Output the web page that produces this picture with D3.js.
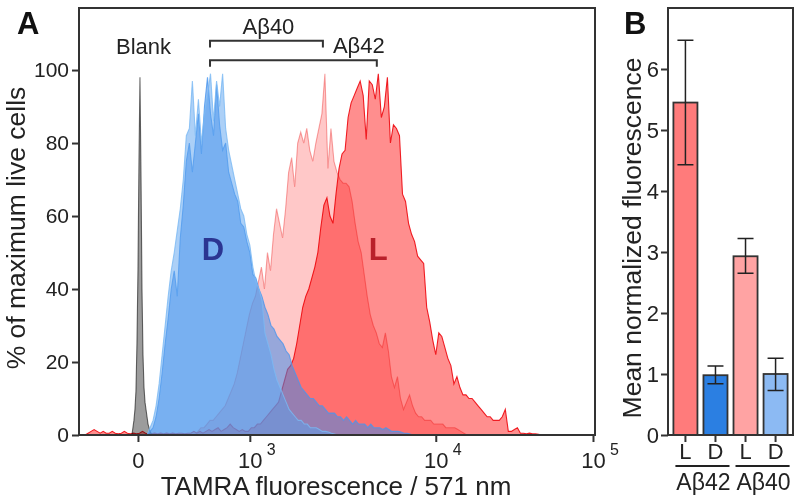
<!DOCTYPE html>
<html lang="en">
<head>
<meta charset="UTF-8">
<title>TAMRA uptake</title>
<script src="https://cdnjs.cloudflare.com/ajax/libs/d3/7.8.5/d3.min.js"></script>
<style>
  body { margin: 0; background: #fff; }
  svg { font-family: "Liberation Sans", Arial, sans-serif; }
</style>
</head>
<body>
<svg id="chart" width="800" height="502"></svg>
<script>
// ---- panel A: flow cytometry histograms (x in display channels, 0-1024) ----
var xTickChannels = [117, 339, 708, 1020];
var xTickBase = ["0", "10", "10", "10"];
var xTickExp = ["", "3", "4", "5"];
var yTicksA = [0, 20, 40, 60, 80, 100];

var binStep = 6;   // channels between histogram points

var blankStart = 105, blankStep = 2;
var blankVals = [0,2,4,7,12,25,45,75,98,72,40,22,13,9,7,5,3,2,1,0.5,0];

var d42Start = 135;
var d42Vals = [0,1,2,5,10,17,25,32,40,45,38,54,63,75,80,72,80,88,77,90,98,88,82,96,85,78,80,72,69,66,
  64,58,57,53,50,44,43,40,38,35,33,30,29,27,26,25,23,22,19,17,15,13,12,11,10,10,9,8,8,7,
  6,6,6,5,5,4,5,4,3,4,3,3,3,2,3,2,2,2,1.5,2,1.5,1,1,1,0.8,0.5,0.5,0.3,0];

var d40Start = 135;
var d40Vals = [0,2,4,8,14,22,30,38,45,50,56,62,70,82,84,97,82,92,80,88,93,99,86,97,90,99,84,78,74,70,
  66,62,60,55,52,46,42,40,37,28,25,22,18,15,13,11,9,7,6,5,4,4,3,3,2,2,2,1.5,1,1,0.8,0.5,0.3,0];

var l40Start = 230;
var l40Vals = [0,1,2,2,3,4,4,5,6,7,8,10,12,14,17,21,25,29,33,36,38,42,46,40,50,45,55,62,58,54,
  62,72,76,68,80,83,80,84,78,75,80,84,88,99,73,84,75,72,70,69,69,68,64,58,53,50,44,38,33,30,
  28,25,24,28,23,16,13,16,10,7,9,11,8,6,5,5,4,4,4,3,3,3,3,2,2,2,2,1.5,1,0.5,0];

var l42Start = 12;
var l42Vals = [0,0.5,1,1.5,1,0.5,1,0.5,0.5,1,0.5,0.3,0.5,1,0.5,0.3,0.5,0.3,0.5,1,0.5,0.3,0.3,0.5,0.3,
  0.5,0.3,0.5,0.3,0.5,0.3,0.5,0.5,0.3,0.5,0.5,1,0.5,1,0.5,1,1.5,1,1.5,2,1,1.5,2,3,2,1.5,1,1.5,1,1,
  2,2,3,3,4,5,6,7,8,9,12,15,18,19,21,25,30,35,38,40,43,46,50,57,63,65,60,58,66,73,77,78,87,91,93,
  95,97,93,81,97,96,92,99,87,90,98,80,85,84,82,66,64,58,55,53,49,48,47,35,31,26,22,28,27,24,21,19,
  14,16,13,11,11,10,10,9,8,7,6,5,5,4,4,4,5,7,1,1,1.5,2,0.5,0.5,0.3,0.5,0.3,0.3,0.2,0];

// brackets: [label, from channel, to channel, level %]
var brackets = [["A\u03b240", 260, 484, 108], ["A\u03b242", 260, 591, 102.7]];

// ---- panel B: mean normalized fluorescence ----
var barKeys = ["L42", "D42", "L40", "D40"];
var barLetters = ["L", "D", "L", "D"];
var barMeans = [5.45, 0.98, 2.93, 1.0];
var barLow = [4.43, 0.84, 2.65, 0.73];
var barHigh = [6.47, 1.13, 3.22, 1.26];
var barColors = ["#ff7b7b", "#2b7fe2", "#ffa3a3", "#8cbaf3"];
var groupNames = ["A\u03b242", "A\u03b240"];
var yTicksB = [0, 1, 2, 3, 4, 5, 6];

var svg = d3.select("#chart");
var ink = "#333";
var font = "Liberation Sans, Arial, sans-serif";

// ===== Panel A =====
var A = {left: 79, right: 595, top: 8, bottom: 435};
var x = d3.scaleLinear().domain([0, 1024]).range([A.left, A.right]);
var y = d3.scaleLinear().domain([0, 117]).range([A.bottom, A.top]);

svg.append("clipPath").attr("id", "clipA").append("rect")
  .attr("x", A.left).attr("y", A.top).attr("width", A.right - A.left).attr("height", A.bottom - A.top);

// reds multiply together, blues are laid over them with plain transparency
var series = [
  {start: blankStart, step: blankStep, vals: blankVals, fill: "#9c9c9c", stroke: "#707070", blend: "multiply", op: 1},
  {start: l42Start, step: binStep, vals: l42Vals, fill: "#ff8e8e", stroke: "#f0242c", blend: "multiply", op: 1},
  {start: l40Start, step: binStep, vals: l40Vals, fill: "#ffc8c8", stroke: "#f7a8a8", blend: "multiply", op: 1},
  {start: d42Start, step: binStep, vals: d42Vals, fill: "#3f8be8", stroke: "#4a96ee", blend: "normal", op: 0.54},
  {start: d40Start, step: binStep, vals: d40Vals, fill: "#5aa2f0", stroke: "#7ab9f4", blend: "normal", op: 0.5}
];

var gHist = svg.append("g").attr("clip-path", "url(#clipA)");
series.forEach(function(s) {
  var pts = s.vals.map(function(v, i) { return [s.start + i * s.step, v]; });
  var area = d3.area().x(function(d) { return x(d[0]); }).y0(y(0)).y1(function(d) { return y(d[1]); });
  var line = d3.line().x(function(d) { return x(d[0]); }).y(function(d) { return y(d[1]); });
  gHist.append("path").datum(pts).attr("d", area)
    .attr("fill", s.fill).attr("fill-opacity", s.op).style("mix-blend-mode", s.blend);
  gHist.append("path").datum(pts).attr("d", line)
    .attr("fill", "none").attr("stroke", s.stroke).attr("stroke-width", 1.1)
    .attr("stroke-opacity", s.blend === "normal" ? 0.8 : 1)
    .style("mix-blend-mode", s.blend);
});

svg.append("text").attr("x", x(266)).attr("y", y(48))
  .attr("text-anchor", "middle").attr("font-size", 31).attr("font-weight", "bold")
  .attr("fill", "#2b3592").text("D");
svg.append("text").attr("x", x(594)).attr("y", y(48))
  .attr("text-anchor", "middle").attr("font-size", 31).attr("font-weight", "bold")
  .attr("fill", "#b9202a").text("L");

// frame and axes
svg.append("rect").attr("x", A.left).attr("y", A.top)
  .attr("width", A.right - A.left).attr("height", A.bottom - A.top)
  .attr("fill", "none").attr("stroke", ink).attr("stroke-width", 2);

var yAxisA = svg.append("g").attr("transform", "translate(" + A.left + ",0)")
  .call(d3.axisLeft(y).tickValues(yTicksA).tickSize(7).tickPadding(3));
yAxisA.select(".domain").remove();
yAxisA.selectAll("line").attr("stroke", ink).attr("stroke-width", 2);
yAxisA.selectAll("text").attr("font-size", 21).attr("fill", "#222").attr("font-family", font);

var xAxisA = svg.append("g").attr("transform", "translate(0," + A.bottom + ")")
  .call(d3.axisBottom(x).tickValues(xTickChannels).tickSize(7).tickFormat(""));
xAxisA.select(".domain").remove();
xAxisA.selectAll("line").attr("stroke", ink).attr("stroke-width", 2);
xAxisA.selectAll(".tick").each(function(d, i) {
  var t = d3.select(this);
  t.append("text").attr("y", 33).attr("text-anchor", "middle").attr("fill", "#222")
    .attr("font-size", 22).attr("font-family", font).text(xTickBase[i]);
  if (xTickExp[i]) {
    t.append("text").attr("x", 21).attr("y", 20).attr("text-anchor", "middle").attr("fill", "#222")
      .attr("font-size", 16).attr("font-family", font).text(xTickExp[i]);
  }
});

svg.append("text").attr("x", (A.left + A.right) / 2 - 1).attr("y", 495)
  .attr("text-anchor", "middle").attr("font-size", 26).attr("fill", "#222")
  .text("TAMRA fluorescence / 571 nm");
svg.append("text").attr("transform", "translate(25,228) rotate(-90)")
  .attr("text-anchor", "middle").attr("font-size", 26.5).attr("fill", "#222")
  .text("% of maximum live cells");

// annotations
svg.append("text").attr("x", 116).attr("y", y(104.3))
  .attr("font-size", 22).attr("fill", "#222").text("Blank");
brackets.forEach(function(b, i) {
  var yl = y(b[3]), yt = y(b[3] - 1.8);
  svg.append("path")
    .attr("d", "M" + x(b[1]) + "," + yt + "V" + yl + "H" + x(b[2]) + "V" + yt)
    .attr("fill", "none").attr("stroke", ink).attr("stroke-width", 2);
  var tx = i === 0 ? (x(b[1]) + x(b[2])) / 2 + 2 : x(b[2]) - 18;
  svg.append("text").attr("x", tx).attr("y", yl - 7)
    .attr("text-anchor", "middle").attr("font-size", 22).attr("fill", "#222").text(b[0]);
});

svg.append("text").attr("x", 17).attr("y", 34).attr("font-size", 31)
  .attr("font-weight", "bold").attr("fill", "#111").text("A");

// ===== Panel B =====
var B = {left: 668, right: 793, top: 8, bottom: 435};
var xb = d3.scaleBand().domain(barKeys).range([B.left, B.right])
  .paddingInner(0.2).paddingOuter(0.18);
var yb = d3.scaleLinear().domain([0, 7]).range([B.bottom, B.top]);

svg.selectAll(".bar").data(barKeys).enter().append("rect")
  .attr("class", "bar")
  .attr("x", function(d) { return xb(d); })
  .attr("y", function(d, i) { return yb(barMeans[i]); })
  .attr("width", xb.bandwidth())
  .attr("height", function(d, i) { return yb(0) - yb(barMeans[i]); })
  .attr("fill", function(d, i) { return barColors[i]; })
  .attr("stroke", ink).attr("stroke-width", 1.8);

var eb = svg.selectAll(".err").data(barKeys).enter().append("g").attr("class", "err");
eb.append("path")
  .attr("d", function(d, i) {
    var cx = xb(d) + xb.bandwidth() / 2, w = 8;
    return "M" + cx + "," + yb(barLow[i]) + "V" + yb(barHigh[i]) +
      "M" + (cx - w) + "," + yb(barHigh[i]) + "H" + (cx + w) +
      "M" + (cx - w) + "," + yb(barLow[i]) + "H" + (cx + w);
  })
  .attr("fill", "none").attr("stroke", "#222").attr("stroke-width", 1.5);

svg.append("rect").attr("x", B.left).attr("y", B.top)
  .attr("width", B.right - B.left).attr("height", B.bottom - B.top)
  .attr("fill", "none").attr("stroke", ink).attr("stroke-width", 2);

var yAxisB = svg.append("g").attr("transform", "translate(" + B.left + ",0)")
  .call(d3.axisLeft(yb).tickValues(yTicksB).tickSize(7).tickPadding(2).tickFormat(d3.format("d")));
yAxisB.select(".domain").remove();
yAxisB.selectAll("line").attr("stroke", ink).attr("stroke-width", 2);
yAxisB.selectAll("text").attr("font-size", 22).attr("fill", "#222").attr("font-family", font);

var xAxisB = svg.append("g").attr("transform", "translate(0," + B.bottom + ")")
  .call(d3.axisBottom(xb).tickSize(7).tickFormat(function(d, i) { return barLetters[i]; }));
xAxisB.select(".domain").remove();
xAxisB.selectAll("line").attr("stroke", ink).attr("stroke-width", 2);
xAxisB.selectAll("text").attr("font-size", 22).attr("fill", "#222").attr("dy", "0.62em")
  .attr("font-family", font);

groupNames.forEach(function(g, i) {
  var x0 = xb(barKeys[2 * i]) + 2, x1 = xb(barKeys[2 * i + 1]) + xb.bandwidth() + 2;
  svg.append("line").attr("x1", x0).attr("x2", x1).attr("y1", 466).attr("y2", 466)
    .attr("stroke", "#222").attr("stroke-width", 2);
  svg.append("text").attr("x", (x0 + x1) / 2 + 1).attr("y", 490)
    .attr("text-anchor", "middle").attr("font-size", 23).attr("fill", "#222").text(g);
});

svg.append("text").attr("transform", "translate(641,238) rotate(-90)")
  .attr("text-anchor", "middle").attr("font-size", 26.5).attr("fill", "#222")
  .text("Mean normalized fluorescence");
svg.append("text").attr("x", 624).attr("y", 34).attr("font-size", 31)
  .attr("font-weight", "bold").attr("fill", "#111").text("B");
</script>
</body>
</html>
